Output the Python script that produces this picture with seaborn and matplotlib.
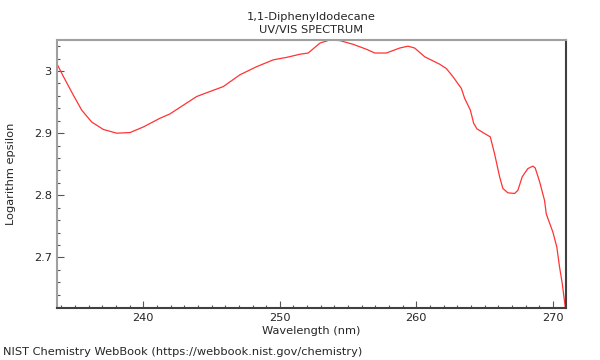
import numpy as np
import pandas as pd
import matplotlib
matplotlib.use("Agg")
import matplotlib.pyplot as plt
from matplotlib.ticker import MultipleLocator
import seaborn as sns

# spectrum values
wavelength = [233.71, 234.15, 234.88, 235.49, 236.22, 237.07, 238.05, 239.03, 240.0,
              241.22, 241.95, 242.93, 243.91, 244.88, 245.86, 247.08, 248.30, 249.52,
              250.50, 251.47, 252.08, 252.94, 253.67, 254.40, 255.37, 256.35, 256.96,
              257.81, 258.78, 259.39, 259.88, 260.61, 261.71, 262.20, 262.68, 263.30,
              263.54, 263.96, 264.20, 264.44, 264.88, 265.42, 265.73, 266.10, 266.34,
              266.71, 267.20, 267.44, 267.76, 268.17, 268.54, 268.71, 269.03, 269.39,
              269.52, 270.0, 270.29, 270.49, 270.69, 270.91]
log_eps = [3.010, 2.991, 2.961, 2.937, 2.918, 2.906, 2.900, 2.901, 2.910,
           2.924, 2.931, 2.945, 2.959, 2.967, 2.975, 2.994, 3.007, 3.018,
           3.022, 3.027, 3.029, 3.045, 3.050, 3.049, 3.043, 3.035, 3.029,
           3.029, 3.037, 3.040, 3.037, 3.023, 3.011, 3.004, 2.991, 2.972,
           2.956, 2.937, 2.916, 2.907, 2.901, 2.894, 2.867, 2.830, 2.811,
           2.804, 2.803, 2.808, 2.830, 2.843, 2.847, 2.844, 2.822, 2.792,
           2.770, 2.741, 2.717, 2.685, 2.658, 2.620]

df = pd.DataFrame({"wavelength": wavelength, "log_eps": log_eps})

sns.set_style("white")
plt.rcParams["font.family"] = ["DejaVu Sans"]

fig = plt.figure(figsize=(6, 3.6), dpi=100)
ax = fig.add_axes([0.0955, 0.145, 0.8475, 0.744])

sns.lineplot(data=df, x="wavelength", y="log_eps", ax=ax, color="#ff3333", linewidth=0.9)

ax.set_xlim(233.7, 270.95)
ax.set_ylim(2.619, 3.050)
ax.xaxis.set_major_locator(MultipleLocator(10))
ax.xaxis.set_minor_locator(MultipleLocator(1))
ax.yaxis.set_major_locator(MultipleLocator(0.1))
ax.yaxis.set_minor_locator(MultipleLocator(0.02))
ax.yaxis.set_major_formatter(matplotlib.ticker.FuncFormatter(lambda v, p: f"{v:g}"))
ax.tick_params(which="major", direction="in", length=5, width=0.8, color="#555555",
               labelsize=8.2, pad=4)
ax.tick_params(which="minor", direction="in", length=2.5, width=0.8, color="#555555")
ax.tick_params(bottom=True, left=True, which="both")

for side in ["top", "left"]:
    ax.spines[side].set_color("#a0a0a0")
    ax.spines[side].set_linewidth(1.5)
for side in ["right", "bottom"]:
    ax.spines[side].set_color("#404040")
    ax.spines[side].set_linewidth(1.5)

ax.set_xlabel("Wavelength (nm)", fontsize=8.2, labelpad=2)
ax.set_ylabel("Logarithm epsilon", fontsize=8.2)
ax.yaxis.set_label_coords(-0.081, 0.5)
ax.set_title("1,1-Diphenyldodecane\nUV/VIS SPECTRUM", fontsize=8.2, pad=5, linespacing=1.35)

fig.text(0.005, 0.008, "NIST Chemistry WebBook (https://webbook.nist.gov/chemistry)",
         fontsize=8.2, ha="left", va="bottom")

fig.savefig("out.png", dpi=100)
